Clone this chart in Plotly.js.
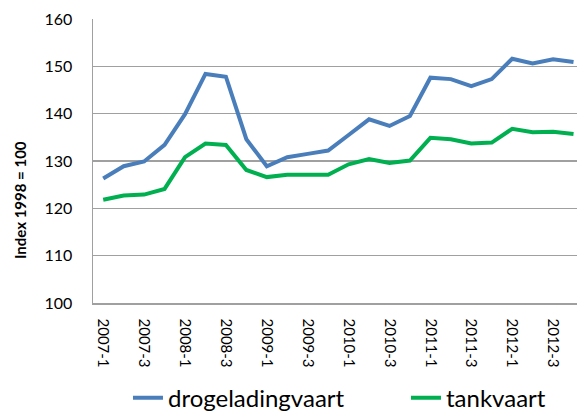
<!DOCTYPE html>
<html>
<head>
<meta charset="utf-8">
<script src="https://cdn.plot.ly/plotly-3.0.1.min.js"></script>
<style>html,body{margin:0;padding:0;background:#fff;}#chart{width:577px;height:414px;}</style>
</head>
<body>
<div id="chart"></div>
<script>
const quarters = ["2007-1","2007-2","2007-3","2007-4","2008-1","2008-2","2008-3","2008-4",
  "2009-1","2009-2","2009-3","2009-4","2010-1","2010-2","2010-3","2010-4",
  "2011-1","2011-2","2011-3","2011-4","2012-1","2012-2","2012-3","2012-4"];
const tickLabels = ["2007-1","2007-3","2008-1","2008-3","2009-1","2009-3","2010-1","2010-3","2011-1","2011-3","2012-1","2012-3"];
const drogeladingvaart = [126.3,128.9,129.9,133.4,139.9,148.4,147.8,134.6,128.9,130.8,131.5,132.2,
  135.5,138.8,137.4,139.5,147.6,147.3,145.8,147.3,151.6,150.6,151.5,150.9];
const tankvaart = [121.8,122.7,122.9,124.1,130.8,133.7,133.4,128.1,126.6,127.1,127.1,127.1,
  129.3,130.4,129.6,130.1,134.9,134.6,133.7,133.9,136.8,136.1,136.2,135.7];
const yTitle = "Index 1998 = 100";

const font = "Lato, 'Open Sans', sans-serif";
const data = [
  {x: quarters, y: drogeladingvaart, name: "drogeladingvaart", type: "scatter", mode: "lines",
   line: {color: "#4A7EBB", width: 4}, legend: "legend"},
  {x: quarters, y: tankvaart, name: "tankvaart", type: "scatter", mode: "lines",
   line: {color: "#00B050", width: 4}, legend: "legend2"}
];
const legendBase = {orientation: "h", xref: "container", yref: "container", xanchor: "left",
  y: 0.038, yanchor: "middle", font: {size: 24, family: font}, bgcolor: "rgba(0,0,0,0)"};
const layout = {
  width: 577, height: 414,
  margin: {l: 93, r: 0, t: 19, b: 111, autoexpand: false},
  paper_bgcolor: "#fff", plot_bgcolor: "#fff",
  font: {family: font, color: "#000", size: 13},
  showlegend: true,
  legend: Object.assign({}, legendBase, {x: 0.2218}),
  legend2: Object.assign({}, legendBase, {x: 0.7036}),
  xaxis: {type: "category", range: [-0.5, 23.17], tickmode: "array", tickvals: tickLabels, ticktext: tickLabels,
    tickangle: 90, showgrid: false, showline: true, linecolor: "#A0A0A0", linewidth: 1.5,
    ticks: "", ticklabelstandoff: 11, tickfont: {size: 15}, zeroline: false, fixedrange: true},
  yaxis: {range: [100, 160], dtick: 10, showgrid: true, gridcolor: "#A0A0A0", gridwidth: 1.2,
    showline: true, linecolor: "#A0A0A0", linewidth: 1.5, ticks: "", zeroline: false,
    tickfont: {size: 16}, ticklabelstandoff: 16},
  annotations: [{text: "<b>" + yTitle + "</b>", xref: "paper", yref: "paper", x: -0.1508, y: 0.3627,
    xanchor: "center", yanchor: "middle", textangle: -90, showarrow: false, font: {size: 15, family: font}}]
};
Plotly.newPlot("chart", data, layout, {staticPlot: true, displayModeBar: false});
</script>
</body>
</html>
